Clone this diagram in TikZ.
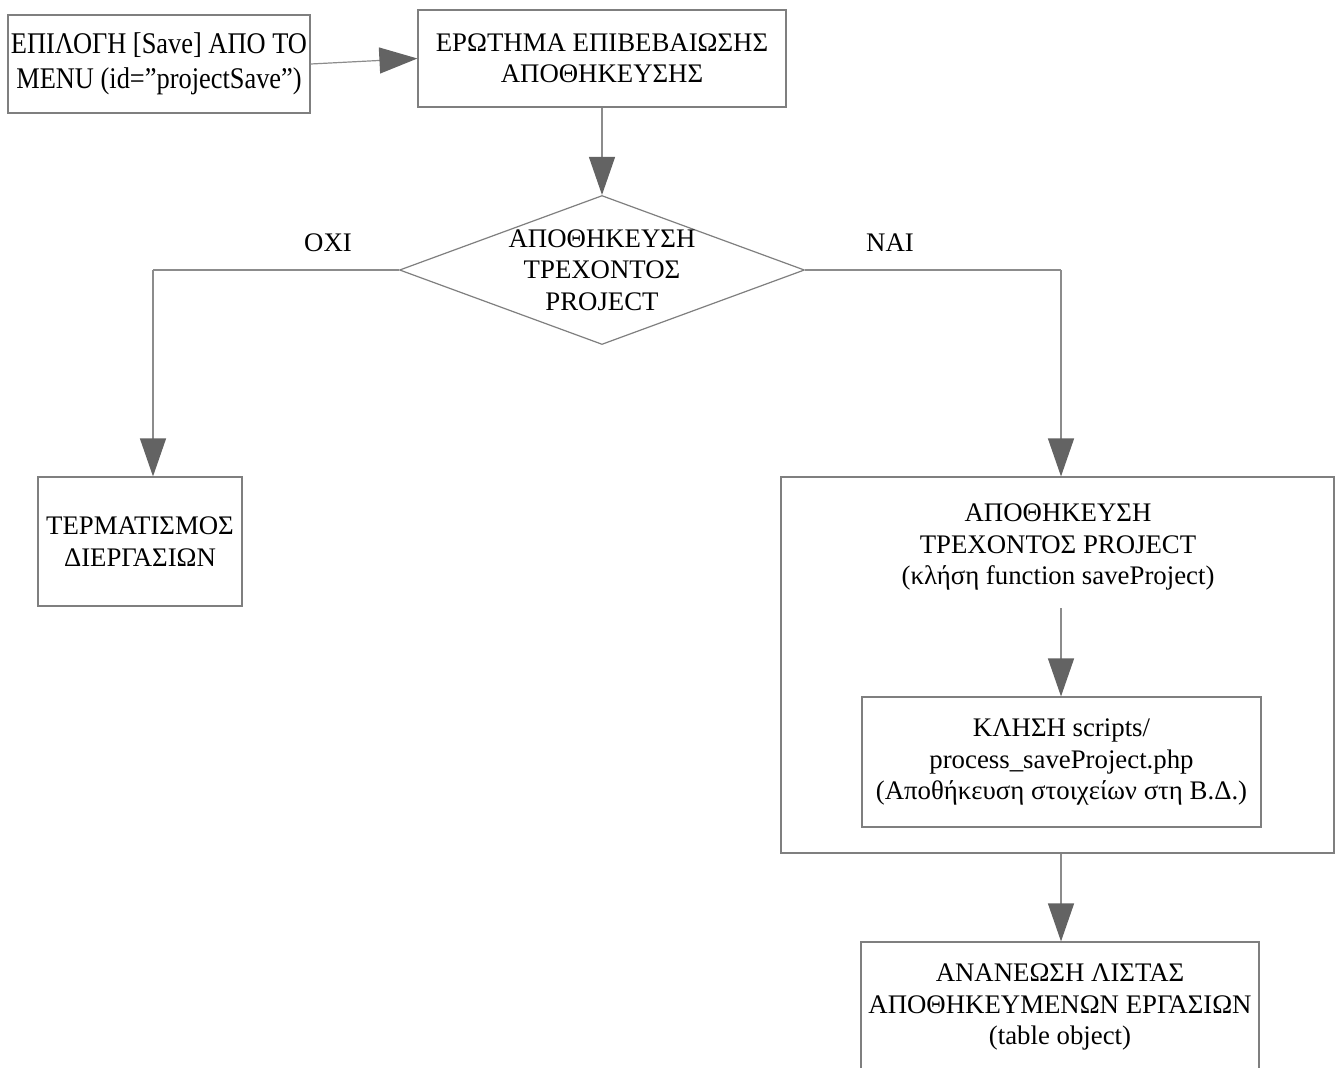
\documentclass[tikz,border=0pt]{standalone}
\usepackage{fontspec}
\setmainfont{Liberation Serif}
\usetikzlibrary{arrows.meta,shapes.geometric}
\definecolor{boxline}{HTML}{7F7F7F}
\definecolor{connline}{HTML}{8C8C8C}
\definecolor{tipfill}{HTML}{636363}
\begin{document}
\begin{tikzpicture}[x=0.5pt,y=-0.5pt,
  every node/.style={font=\fontsize{13.4pt}{15.7pt}\selectfont, align=center, inner sep=0pt},
  procbox/.style={draw=boxline, line width=0.6pt, rectangle},
  decbox/.style={draw=boxline, line width=0.6pt, diamond, aspect=2.72, inner sep=-5pt,
                 minimum width=202.5pt, minimum height=74.5pt},
  conn/.style={draw=connline, line width=0.6pt,
               -{Triangle[length=19pt,width=13pt,fill=tipfill,color=tipfill]}},
  plain/.style={draw=connline, line width=0.6pt}]
\useasboundingbox (0,0) rectangle (1336,1067);
\clip (0,0) rectangle (1336,1067);
\fill[white] (0,0) rectangle (1336,1067);

% start and question boxes
\node[procbox, minimum width=151pt, minimum height=49pt] (start) at (159,64)
  {\scalebox{0.88}[1]{\fontsize{15pt}{17.5pt}\selectfont\begin{tabular}{@{}c@{}}ΕΠΙΛΟΓΗ [Save] ΑΠΟ ΤΟ\\MENU (id=”projectSave”)\end{tabular}}};
\node[procbox, minimum width=184pt, minimum height=48.5pt] (ask) at (602,58.5)
  {ΕΡΩΤΗΜΑ ΕΠΙΒΕΒΑΙΩΣΗΣ\\ΑΠΟΘΗΚΕΥΣΗΣ};

% decision
\node[decbox] (dec) at (602,270) {ΑΠΟΘΗΚΕΥΣΗ\\ΤΡΕΧΟΝΤΟΣ\\PROJECT};
\node (no) at (328,243) {ΟΧΙ};
\node (yes) at (890,243) {ΝΑΙ};

% "no" branch
\node[procbox, minimum width=102pt, minimum height=64.5pt] (stop) at (140,541.5)
  {ΤΕΡΜΑΤΙΣΜΟΣ\\ΔΙΕΡΓΑΣΙΩΝ};

% "yes" branch: outer save box with nested script call
\node[procbox, minimum width=276.5pt, minimum height=188pt] (save) at (1057.5,665) {};
\node (savetxt) at (1058,547) {ΑΠΟΘΗΚΕΥΣΗ\\ΤΡΕΧΟΝΤΟΣ PROJECT\\(κλήση function saveProject)};
\node[procbox, minimum width=199.5pt, minimum height=65pt] (script) at (1061.5,762)
  {ΚΛΗΣΗ scripts/\\process\_saveProject.php\\(Αποθήκευση στοιχείων στη Β.Δ.)};
\node[procbox, minimum width=199pt, minimum height=65pt] (refresh) at (1060,1007)
  {ΑΝΑΝΕΩΣΗ ΛΙΣΤΑΣ\\ΑΠΟΘΗΚΕΥΜΕΝΩΝ ΕΡΓΑΣΙΩΝ\\(table object)};

% connector turning points
\coordinate (lturn) at (153,270);
\coordinate (rturn) at (1061,270);
\coordinate (saveout) at (1061,608);

% connectors
\draw[conn] (start.east) -- (ask.west);
\draw[conn] (ask.south) -- (dec.north);
\draw[plain] (dec.west) -- (lturn);
\draw[conn] (lturn) -- (lturn |- stop.north);
\draw[plain] (dec.east) -- (rturn);
\draw[conn] (rturn) -- (rturn |- save.north);
\draw[conn] (saveout) -- (saveout |- script.north);
\draw[conn] (saveout |- save.south) -- (saveout |- refresh.north);
\end{tikzpicture}
\end{document}
